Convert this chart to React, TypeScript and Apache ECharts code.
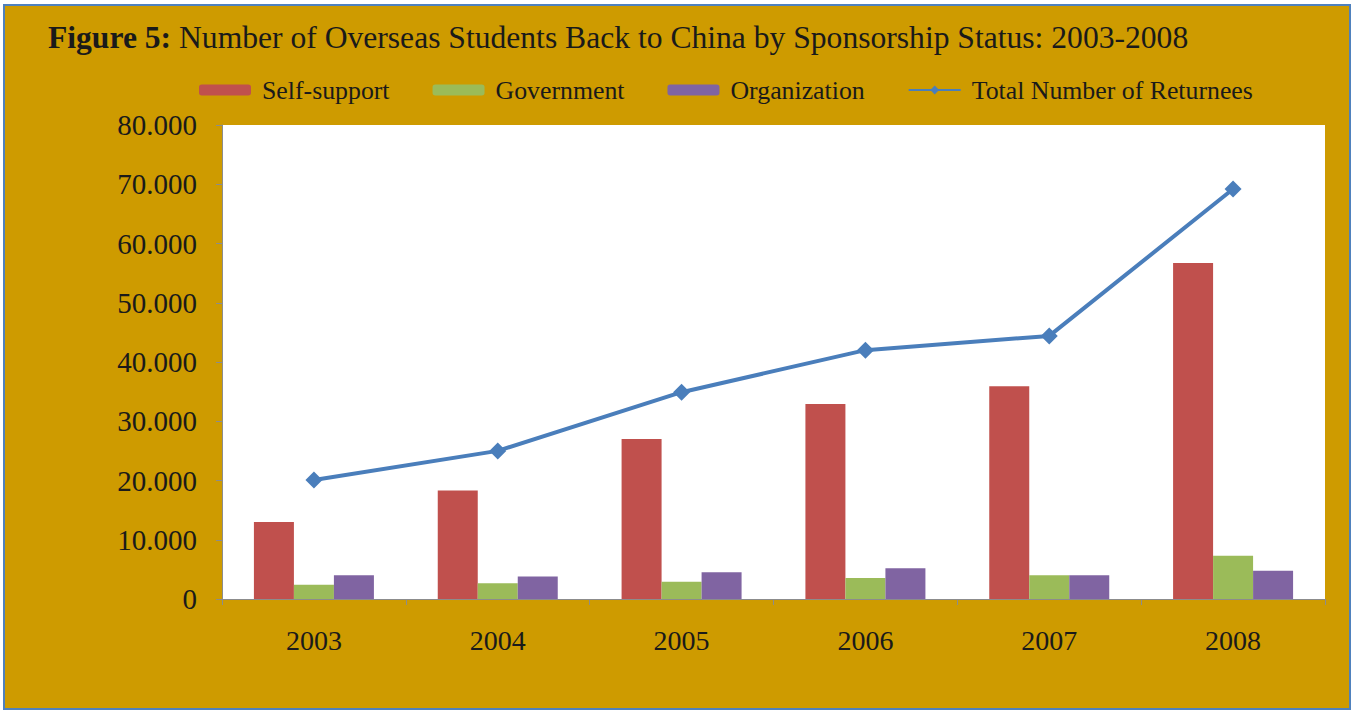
import React, { useEffect, useRef } from "react";
import * as echarts from "echarts";

const years = ["2003", "2004", "2005", "2006", "2007", "2008"];
const selfSupport = [13000, 18300, 27000, 32900, 35900, 56700];
const government = [2400, 2650, 2900, 3550, 4000, 7300];
const organization = [4000, 3800, 4500, 5200, 4000, 4750];
const totalReturnees = [20100, 25000, 34900, 42000, 44400, 69200];

const FONT = "'Liberation Serif', 'Times New Roman', serif";
const GOLD = "#CE9B00";

export default function App() {
  const ref = useRef<HTMLDivElement>(null);
  useEffect(() => {
    if (!ref.current) return;
    const chart = echarts.init(ref.current, undefined, { renderer: "svg" });
    chart.setOption({
      animation: false,
      backgroundColor: "#ffffff",
      graphic: [
        {
          type: "rect",
          z: -10,
          silent: true,
          shape: { x: 4, y: 5, width: 1346, height: 704 },
          style: { fill: GOLD, stroke: "#4F81BD", lineWidth: 2 },
        },
      ],
      title: {
        left: 43,
        top: 16,
        text: "{b|Figure 5:} Number of Overseas Students Back to China by Sponsorship Status: 2003-2008",
        textStyle: {
          fontFamily: FONT,
          fontSize: 31.6,
          fontWeight: "normal",
          color: "#1a1a1a",
          rich: {
            b: { fontFamily: FONT, fontSize: 31.6, fontWeight: "bold", color: "#1a1a1a" },
          },
        },
      },
      legend: {
        left: 194,
        top: 72,
        itemWidth: 52,
        itemHeight: 11,
        itemGap: 43,
        textStyle: { fontFamily: FONT, fontSize: 25.8, color: "#1a1a1a", padding: [0, 0, 0, 6] },
        data: ["Self-support", "Government", "Organization", "Total Number of Returnees"],
      },
      grid: { left: 222, right: 30, top: 125, bottom: 114, show: true, backgroundColor: "#ffffff", borderWidth: 0 },
      xAxis: {
        type: "category",
        data: years,
        boundaryGap: true,
        axisLine: { lineStyle: { color: "#8c8c8c", width: 1 } },
        axisTick: { show: true, length: 6, lineStyle: { color: "#8c8c8c" } },
        axisLabel: { fontFamily: FONT, fontSize: 28, color: "#1a1a1a", margin: 27 },
      },
      yAxis: {
        type: "value",
        min: 0,
        max: 80000,
        interval: 10000,
        axisLine: { show: true, lineStyle: { color: "#8c8c8c", width: 1 } },
        axisTick: { show: true, length: 6, lineStyle: { color: "#8c8c8c" } },
        splitLine: { show: false },
        axisLabel: {
          fontFamily: FONT,
          fontSize: 29,
          color: "#1a1a1a",
          margin: 25,
          formatter: (v: number) => (v === 0 ? "0" : v / 1000 + ".000"),
        },
      },
      series: [
        { name: "Self-support", type: "bar", data: selfSupport, barWidth: 40, barGap: "0%", itemStyle: { color: "#C0504D" } },
        { name: "Government", type: "bar", data: government, barWidth: 40, barGap: "0%", itemStyle: { color: "#9BBB59" } },
        { name: "Organization", type: "bar", data: organization, barWidth: 40, barGap: "0%", itemStyle: { color: "#8064A2" } },
        {
          name: "Total Number of Returnees",
          type: "line",
          data: totalReturnees,
          symbol: "diamond",
          symbolSize: 17,
          lineStyle: { color: "#4A7EBB", width: 4 },
          itemStyle: { color: "#4A7EBB" },
        },
      ],
    });
    return () => chart.dispose();
  }, []);
  return (
    <div
      ref={ref}
      style={{ position: "absolute", left: 0, top: 0, width: 1355, height: 713 }}
    />
  );
}
